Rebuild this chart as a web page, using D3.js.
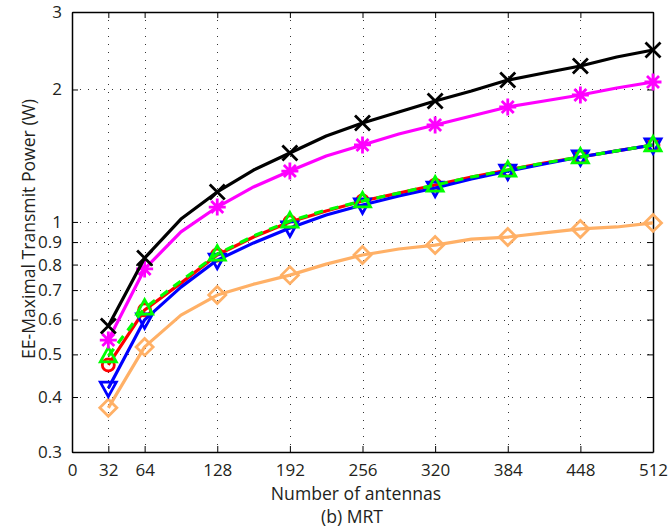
<!DOCTYPE html>
<html>
<head>
<meta charset="utf-8">
<script src="https://cdn.jsdelivr.net/npm/d3@7"></script>
<style>
html,body{margin:0;padding:0;background:#fff;}
svg{display:block;}
text{font-family:"Open Sans",sans-serif;fill:#231f20;}
</style>
</head>
<body>
<svg id="canvas" width="668" height="527"></svg>
<script>
// antenna counts (line points) and the ones that get markers
const antennas = [32,64,96,128,160,192,224,256,288,320,352,384,416,448,480,512];
const markerAt = [32,64,128,192,256,320,384,448,512];
const xTicks = [0,32,64,128,192,256,320,384,448,512];
const yTicks = [0.3,0.4,0.5,0.6,0.7,0.8,0.9,1,2,3];

const blackX   = [0.580,0.828,1.015,1.170,1.312,1.434,1.568,1.678,1.778,1.883,1.984,2.101,2.180,2.261,2.371,2.459];
const magentaS = [0.539,0.782,0.949,1.081,1.201,1.305,1.412,1.496,1.584,1.661,1.741,1.825,1.883,1.943,2.016,2.080];
const redO     = [0.473,0.631,0.726,0.841,0.924,1.000,1.059,1.116,1.163,1.213,1.265,1.312,1.361,1.405,1.450,1.496];
const greenT   = [0.496,0.637,0.734,0.845,0.929,1.005,1.064,1.116,1.163,1.213,1.265,1.312,1.361,1.405,1.450,1.496];
const blueV    = [0.419,0.599,0.711,0.819,0.896,0.969,1.037,1.093,1.145,1.194,1.252,1.305,1.354,1.405,1.450,1.496];
const orangeD  = [0.378,0.520,0.614,0.682,0.722,0.757,0.802,0.841,0.868,0.886,0.914,0.924,0.944,0.964,0.974,0.995];

let svg = d3.select("#canvas");
let x = d3.scaleLinear().domain([0,512]).range([72,653]);
let y = d3.scaleLog().domain([0.3,3]).range([452,12]);

// grid
let grid = svg.append("g").attr("stroke","#333").attr("stroke-width",1).attr("stroke-dasharray","1,7");
grid.selectAll(".gx").data(xTicks.slice(1,-1)).join("line")
  .attr("x1",d=>Math.round(x(d))+0.5).attr("x2",d=>Math.round(x(d))+0.5).attr("y1",y(3)).attr("y2",y(0.3));
grid.selectAll(".gy").data(yTicks.slice(1,-1)).join("line")
  .attr("y1",d=>Math.round(y(d))+0.5).attr("y2",d=>Math.round(y(d))+0.5).attr("x1",x(0)).attr("x2",x(512));

// axes
let fmt = d => d>=1 ? d3.format("d")(d) : d3.format(".1f")(d);
let xAx = svg.append("g").attr("transform",`translate(0,${y(0.3)})`)
  .call(d3.axisBottom(x).tickValues(xTicks).tickSizeInner(-6).tickSizeOuter(0).tickPadding(12));
let xTop = svg.append("g").attr("transform",`translate(0,${y(3)})`)
  .call(d3.axisTop(x).tickValues(xTicks).tickSizeInner(-6).tickSizeOuter(0).tickFormat(""));
let yAx = svg.append("g").attr("transform",`translate(${x(0)},0)`)
  .call(d3.axisLeft(y).tickValues(yTicks).tickFormat(fmt).tickSizeInner(-6).tickSizeOuter(0).tickPadding(10));
let yR = svg.append("g").attr("transform",`translate(${x(512)},0)`)
  .call(d3.axisRight(y).tickValues(yTicks).tickFormat("").tickSizeInner(-6).tickSizeOuter(0));
[xAx,xTop,yAx,yR].forEach(a=>{
  a.select(".domain").attr("stroke","#000").attr("stroke-width",1.5);
  a.selectAll(".tick line").attr("stroke","#000").attr("stroke-width",1);
  a.selectAll(".tick text").style("font-size","17px").attr("fill","#231f20");
});

// series
const series = [
  {vals:orangeD, color:"#ffb066", mark:"diamond"},
  {vals:redO, color:"#ff0000", mark:"circle"},
  {vals:blueV, color:"#0000ff", mark:"down"},
  {vals:greenT, color:"#00ff00", mark:"up", dash:"9,7"},
  {vals:magentaS, color:"#ff00ff", mark:"star"},
  {vals:blackX, color:"#000000", mark:"x"}
];

let line = d3.line().x(d=>x(d[0])).y(d=>y(d[1]));

function markerPath(type){
  let p = d3.path();
  if(type=="x"){ let s=7.5; p.moveTo(-s,-s);p.lineTo(s,s);p.moveTo(-s,s);p.lineTo(s,-s); }
  else if(type=="star"){ let s=8.5,t=6; p.moveTo(0,-s);p.lineTo(0,s);p.moveTo(-s,0);p.lineTo(s,0);
    p.moveTo(-t,-t);p.lineTo(t,t);p.moveTo(-t,t);p.lineTo(t,-t); }
  else if(type=="circle"){ p.arc(0,0,6,0,2*Math.PI); }
  else if(type=="diamond"){ let s=8.5; p.moveTo(0,-s);p.lineTo(s,0);p.lineTo(0,s);p.lineTo(-s,0);p.closePath(); }
  else if(type=="up"){ p.moveTo(0,-8.5);p.lineTo(8,6);p.lineTo(-8,6);p.closePath(); }
  else if(type=="down"){ p.moveTo(0,8.5);p.lineTo(8,-6);p.lineTo(-8,-6);p.closePath(); }
  return p.toString();
}

series.forEach(s=>{
  let pts = antennas.map((a,i)=>[a,s.vals[i]]);
  let g = svg.append("g");
  g.append("path").datum(pts).attr("d",line).attr("fill","none")
    .attr("stroke",s.color).attr("stroke-width",3.2).attr("stroke-linejoin","round")
    .attr("stroke-dasharray",s.dash||null);
  g.selectAll(".m").data(pts.filter(d=>markerAt.includes(d[0]))).join("path")
    .attr("transform",d=>`translate(${x(d[0])},${y(d[1])})`)
    .attr("d",markerPath(s.mark)).attr("fill","none")
    .attr("stroke",s.color).attr("stroke-width",2.8);
});

// labels
svg.append("text").attr("x",356).attr("y",500).attr("text-anchor","middle")
  .style("font-size","17.6px").text("Number of antennas");
svg.append("text").attr("x",352).attr("y",523).attr("text-anchor","middle")
  .style("font-size","17.6px").text("(b) MRT");
svg.append("text").attr("transform","translate(35,229) rotate(-90)").attr("text-anchor","middle")
  .style("font-size","17.6px").text("EE-Maximal Transmit Power (W)");
</script>
</body>
</html>
